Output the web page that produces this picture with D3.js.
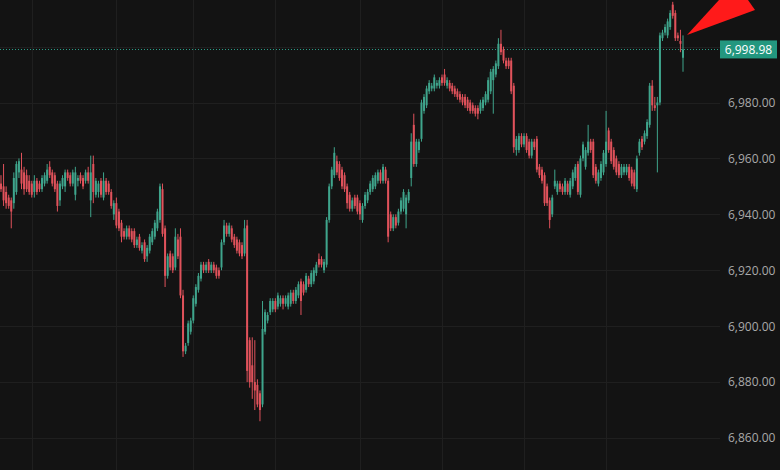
<!DOCTYPE html>
<html><head><meta charset="utf-8">
<script src="https://cdn.jsdelivr.net/npm/d3@7"></script>
<style>html,body{margin:0;padding:0;background:#131313;overflow:hidden}</style>
</head><body><svg id="c" width="780" height="470"></svg>
<script>
const open = [
6951,6950,6948,6946,6945,6944,6948,6955,6956,6955,
6954,6952,6951,6948,6952,6951,6949,6951,6952,6957,
6955,6954,6951,6945,6950,6950,6955,6954,6951,6947,6952,
6954,6953,6952,6955,6945,6958,6947,6948,6952,6946,
6952,6951,6948,6940,6944,6941,6937,6934,6932,6935,
6934,6934,6929,6932,6927,6930,6925,6927,6930,6932,
6935,6938,6949,6935,6918,6926,6925,6921,6931,6932,
6911,6891,6894,6898,6902,6908,6913,6917,6922,6920,
6923,6920,6922,6921,6920,6921,6930,6936,6933,6935,
6932,6931,6930,6929,6926,6936,6895,6886,6880,6879,
6876,6872,6898,6902,6905,6906,6909,6907,6908,6910,6908,
6907,6908,6912,6909,6911,6916,6915,6913,6917,6915,
6916,6919,6924,6924,6920,6922,6938,6950,6954,6959,
6958,6956,6954,6950,6947,6942,6946,6946,6944,6938,
6943,6945,6948,6949,6950,6952,6955,6952,6956,6952,
6940,6935,6939,6937,6941,6942,6940,6945,6953,
6972,6958,6963,6967,6977,6979,6984,6985,6985,6986,
6986,6989,6990,6986,6987,6986,6985,6984,6983,
6982,6982,6981,6980,6979,6978,6978,6977,6978,6980,
6981,6984,6988,6990,6993,7001,6999,6995,6995,6995,
6986,6963,6963,6968,6965,6968,6966,6961,6966,
6967,6957,6956,6954,6950,6945,6940,6950,6948,6951,
6950,6948,6951,6947,6950,6953,6958,6947,6960,6957,
6962,6966,6966,6957,6951,6953,6955,6958,6970,6966,
6963,6960,6958,6954,6955,6955,6957,
6956,6955,6949,6962,6967,6966,6968,6972,6986,6979,6979,
6980,7003,7005,7004,7007,7015,7012,7004,7002,6996];
const high = [
6954,6958,6950,6947,6946,6955,6959,6960,6962,6957,
6956,6954,6952,6954,6953,6952,6954,6955,6958,6959,
6956,6955,6952,6952,6954,6956,6956,6955,6956,6957,6954,
6955,6954,6956,6957,6961,6961,6953,6952,6953,6955,
6953,6952,6949,6945,6946,6942,6938,6935,6936,6936,
6935,6935,6932,6933,6930,6931,6929,6933,6935,6938,
6942,6951,6951,6936,6926,6927,6926,6935,6933,6935,
6913,6894,6902,6903,6911,6915,6919,6923,6923,6923,
6924,6923,6923,6922,6921,6931,6938,6937,6937,6936,
6933,6932,6931,6930,6938,6938,6896,6896,6895,6881,
6877,6909,6906,6905,6910,6910,6910,6912,6911,6911,6911,
6912,6913,6913,6914,6916,6917,6916,6919,6918,6920,
6921,6923,6926,6925,6924,6939,6951,6957,6964,6961,
6959,6957,6955,6951,6948,6946,6947,6947,6945,6944,
6948,6949,6952,6954,6955,6956,6956,6958,6957,6953,
6941,6940,6940,6942,6946,6949,6947,6949,6969,
6976,6967,6967,6981,6983,6986,6988,6987,6990,6988,
6989,6990,6992,6989,6988,6987,6986,6985,6984,
6983,6983,6982,6981,6980,6979,6979,6981,6982,6984,
6989,6992,6993,6995,7003,7006,7000,6996,6996,6996,
6987,6968,6969,6969,6969,6969,6967,6967,6967,
6968,6958,6957,6955,6951,6946,6947,6956,6952,6952,
6951,6953,6952,6953,6956,6958,6959,6961,6966,6964,
6972,6967,6967,6958,6956,6959,6963,6977,6971,6967,
6964,6961,6959,6958,6958,6958,6958,
6957,6956,6961,6967,6968,6970,6974,6987,6988,6982,6982,
7005,7006,7008,7010,7013,7016,7013,7005,7006,7004];
const low = [
6948,6943,6942,6942,6935,6942,6947,6953,6949,6947,
6948,6947,6946,6946,6947,6948,6948,6950,6951,6953,
6950,6948,6941,6943,6949,6948,6952,6950,6950,6945,6950,
6951,6949,6951,6951,6939,6944,6946,6946,6946,6945,
6947,6947,6942,6938,6935,6934,6930,6931,6931,6931,
6930,6928,6928,6927,6926,6923,6923,6926,6929,6931,
6934,6937,6932,6914,6917,6920,6919,6920,6924,6910,
6889,6890,6893,6897,6901,6907,6912,6916,6919,6919,
6919,6919,6919,6917,6917,6920,6929,6932,6932,6930,
6928,6926,6925,6924,6925,6880,6878,6874,6870,6871,
6866,6871,6897,6901,6904,6905,6905,6906,6907,6906,6907,
6906,6907,6908,6908,6910,6904,6911,6912,6914,6914,
6915,6918,6921,6921,6919,6921,6937,6949,6953,6954,
6952,6949,6948,6942,6941,6941,6942,6940,6938,6937,
6942,6944,6947,6948,6949,6951,6951,6951,6951,6930,
6934,6934,6935,6936,6940,6941,6935,6944,6950,
6957,6957,6962,6966,6976,6978,6983,6984,6984,6985,
6985,6986,6986,6985,6984,6983,6982,6981,6980,
6979,6978,6977,6976,6976,6975,6974,6976,6977,6979,
6980,6983,6976,6989,6992,6997,6994,6992,6992,6983,
6962,6961,6962,6964,6964,6962,6960,6960,6963,
6955,6953,6951,6943,6943,6935,6939,6949,6947,6948,
6947,6947,6947,6946,6949,6952,6947,6946,6959,6956,
6961,6962,6953,6951,6950,6952,6954,6957,6962,6958,
6956,6954,6953,6953,6954,6954,6952,
6950,6949,6948,6961,6963,6965,6967,6971,6977,6977,6955,
6979,7002,7004,7003,7006,7010,7002,7002,6998,6991];
const close = [
6949,6945,6944,6943,6941,6953,6958,6959,6951,6949,
6949,6948,6947,6952,6948,6949,6953,6954,6956,6954,
6951,6949,6943,6951,6953,6955,6953,6951,6955,6955,6953,
6952,6950,6955,6952,6955,6948,6952,6951,6947,6952,
6948,6948,6943,6944,6936,6935,6932,6932,6935,6932,
6931,6929,6931,6928,6929,6924,6928,6932,6934,6937,
6941,6950,6933,6918,6925,6921,6920,6932,6925,6911,
6891,6893,6901,6902,6910,6914,6918,6922,6920,6922,
6920,6922,6920,6918,6918,6930,6936,6933,6936,6931,
6929,6927,6926,6925,6935,6884,6880,6880,6877,6872,
6870,6899,6905,6904,6909,6909,6906,6911,6910,6908,6910,
6911,6912,6909,6913,6915,6909,6912,6918,6915,6919,
6920,6922,6922,6922,6923,6938,6950,6956,6962,6955,
6953,6950,6949,6944,6942,6945,6943,6941,6940,6943,
6947,6948,6951,6953,6954,6955,6952,6957,6952,6932,
6935,6939,6936,6941,6945,6948,6946,6948,6966,
6958,6966,6966,6980,6982,6985,6987,6986,6989,6987,
6988,6987,6987,6988,6985,6984,6983,6982,6981,
6980,6979,6978,6977,6977,6976,6976,6980,6981,6983,
6988,6991,6992,6994,7001,6998,6995,6993,6993,6984,
6964,6967,6968,6965,6968,6963,6961,6966,6964,
6956,6954,6952,6944,6944,6938,6946,6952,6951,6949,
6948,6952,6948,6952,6955,6957,6948,6960,6965,6963,
6966,6963,6954,6952,6955,6958,6962,6966,6963,6959,
6957,6955,6954,6957,6957,6957,6953,
6951,6950,6960,6966,6964,6969,6973,6986,6979,6978,6980,
7004,7005,7007,7009,7012,7011,7003,7003,7001,6998.98];
const priceTicks = [6860, 6880, 6900, 6920, 6940, 6960, 6980];
const timeGridIdx = [12, 45, 75, 107, 140, 172, 204, 236];

const W = 780, H = 470, plotRight = 720;
const UP = "#3fa58c", DOWN = "#e0525b", BG = "#131313", GRID = "#1f1f1f";
const FONT = "'Open Sans', 'DejaVu Sans', sans-serif";
const svg = d3.select("#c");
svg.append("rect").attr("width", W).attr("height", H).attr("fill", BG);

const n = close.length;
const x = d3.scaleBand().domain(d3.range(n)).range([0, 684]).paddingInner(0.22);
const y = d3.scaleLinear().domain([6860, 6980]).range([438, 102.5]);
const bw = Math.max(1.8, x.bandwidth());
const cx = i => x(i) + x.bandwidth() / 2;

// grid
const grid = svg.append("g");
grid.selectAll("line.h").data(priceTicks.concat([7000])).join("line")
  .attr("x1", 0).attr("x2", plotRight)
  .attr("y1", d => Math.round(y(d)) + 0.5).attr("y2", d => Math.round(y(d)) + 0.5)
  .attr("stroke", GRID).attr("stroke-width", 1);
grid.selectAll("line.v").data(timeGridIdx).join("line")
  .attr("x1", d => Math.round(cx(d)) + 0.5).attr("x2", d => Math.round(cx(d)) + 0.5)
  .attr("y1", 0).attr("y2", H)
  .attr("stroke", GRID).attr("stroke-width", 1);

// last price dotted line
const last = close[n - 1];
svg.append("line").attr("x1", 0).attr("x2", plotRight)
  .attr("y1", Math.round(y(last)) + 0.5).attr("y2", Math.round(y(last)) + 0.5)
  .attr("stroke", "#2a9c86").attr("stroke-width", 1).attr("stroke-dasharray", "1,2");

// candles
const idx = d3.range(n);
const col = i => close[i] >= open[i] ? UP : DOWN;
const cg = svg.append("g");
cg.selectAll("line.wick").data(idx).join("line")
  .attr("x1", cx).attr("x2", cx)
  .attr("y1", i => y(high[i])).attr("y2", i => y(low[i]))
  .attr("stroke", col).attr("stroke-width", 1);
cg.selectAll("rect.body").data(idx).join("rect")
  .attr("x", i => cx(i) - bw / 2).attr("width", bw)
  .attr("y", i => y(Math.max(open[i], close[i])))
  .attr("height", i => Math.max(1, Math.abs(y(open[i]) - y(close[i]))))
  .attr("fill", col);

// price axis
const axis = svg.append("g").attr("transform", `translate(${plotRight},0)`)
  .call(d3.axisRight(y).tickValues(priceTicks).tickFormat(d3.format(",.2f")).tickSize(0).tickPadding(8));
axis.select(".domain").remove();
axis.selectAll("text").attr("fill", "#a9a9a9").style("font-family", FONT).style("font-size", "12px");

// last price label
const ly = y(last);
svg.append("rect").attr("x", plotRight).attr("y", ly - 9).attr("width", 57).attr("height", 18).attr("fill", "#23977f");
svg.append("text").attr("x", plotRight + 28.5).attr("y", ly).attr("dy", "0.35em").attr("text-anchor", "middle")
  .attr("fill", "#ffffff").style("font-family", FONT).style("font-size", "12px")
  .text(d3.format(",.2f")(last));

// red annotation arrow
svg.append("polygon").attr("points", "687,35 719,0 748,0 755,10").attr("fill", "#ff1a1a");
</script></body></html>
